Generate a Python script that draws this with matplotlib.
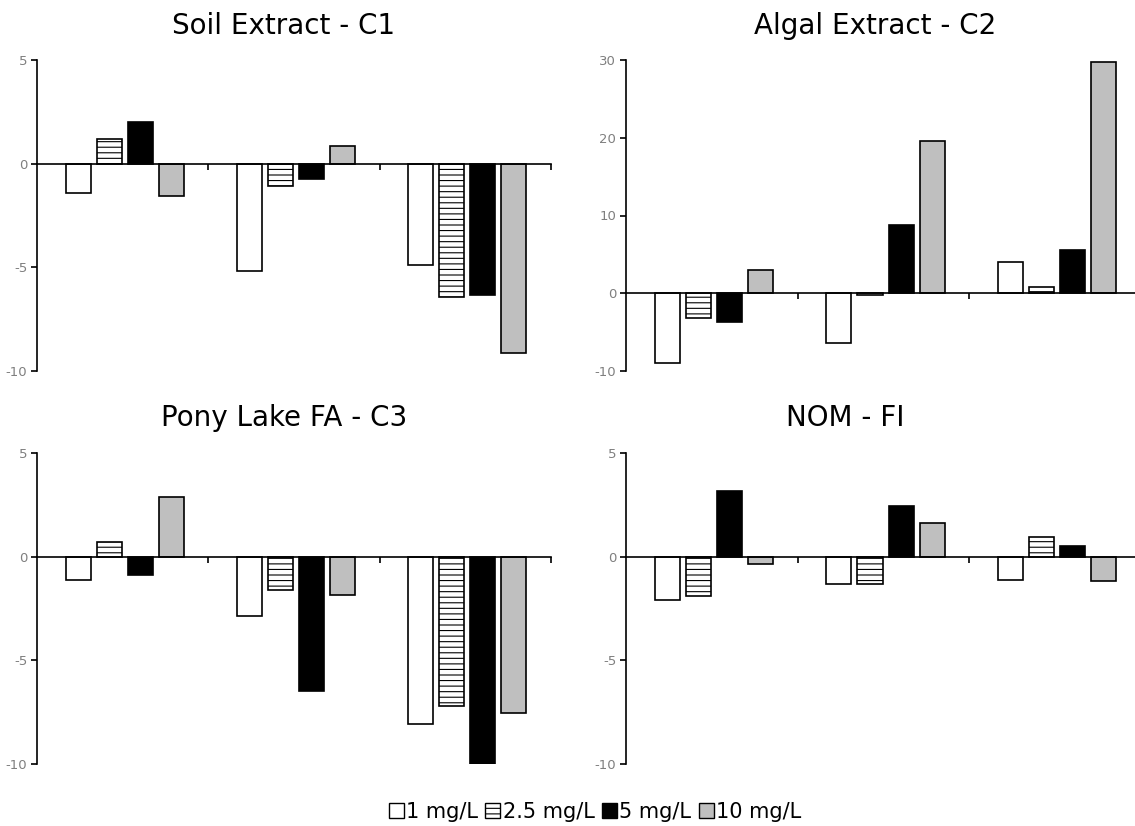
import numpy as np
import matplotlib
matplotlib.use("Agg")
import matplotlib.pyplot as plt
from matplotlib.patches import Patch

W, H = 1135, 826

series = ["1 mg/L", "2.5 mg/L", "5 mg/L", "10 mg/L"]
groups = [0, 1, 2]

# values read per panel: one list per concentration, three groups each
soil_1 = [-1.4, -5.2, -4.9]
soil_25 = [1.2, -1.1, -6.45]
soil_5 = [2.0, -0.72, -6.33]
soil_10 = [-1.57, 0.85, -9.15]

algal_1 = [-9.0, -6.45, 4.05]
algal_25 = [-3.2, -0.25, 0.75]
algal_5 = [-3.7, 8.75, 5.5]
algal_10 = [3.05, 19.6, 29.7]

pony_1 = [-1.12, -2.87, -8.08]
pony_25 = [0.71, -1.62, -7.18]
pony_5 = [-0.88, -6.47, -10.0]
pony_10 = [2.87, -1.86, -7.56]

nom_1 = [-2.1, -1.3, -1.12]
nom_25 = [-1.88, -1.32, 0.93]
nom_5 = [3.16, 2.46, 0.5]
nom_10 = [-0.34, 1.64, -1.19]

soil_ticks = [-10, -5, 0, 5]
algal_ticks = [-10, 0, 10, 20, 30]

STYLE = [dict(facecolor="white", hatch=None),
         dict(facecolor="white", hatch="---"),
         dict(facecolor="black", hatch=None),
         dict(facecolor="#bfbfbf", hatch=None)]

plt.rcParams["font.family"] = ["DejaVu Sans"]
plt.rcParams["axes.unicode_minus"] = False
plt.rcParams["hatch.linewidth"] = 0.8
plt.rcParams["hatch.color"] = "black"


def px_axes(fig, left, top, right, bottom):
    return fig.add_axes([left / W, 1 - bottom / H, (right - left) / W, (bottom - top) / H])


def panel(ax, data, ticks):
    step, width = 0.181, 0.146
    x = np.array(groups, dtype=float) + 0.012
    for i, vals in enumerate(data):
        st = STYLE[i]
        ax.bar(x + (i - 1.5) * step, vals, width, color=st["facecolor"],
               hatch=st["hatch"], edgecolor="black", linewidth=1.2, zorder=2)
    ax.set_xlim(-0.5, 2.5)
    ax.set_ylim(ticks[0], ticks[-1])
    ax.set_yticks(ticks)
    ax.set_xticks([0.5, 1.5, 2.5])
    ax.set_xticklabels([])
    for s in ("top", "right"):
        ax.spines[s].set_visible(False)
    ax.spines["bottom"].set_position(("data", 0))
    ax.spines["bottom"].set_zorder(3)
    for s in ("left", "bottom"):
        ax.spines[s].set_linewidth(1.2)
    ax.tick_params(axis="y", direction="out", length=4, width=1.2,
                   labelsize=9.5, labelcolor="#7f7f7f", pad=3)
    ax.tick_params(axis="x", direction="out", length=4, width=1.2)
    ax.patch.set_visible(False)


fig = plt.figure(figsize=(W / 100, H / 100), dpi=100)

ax1 = px_axes(fig, 37, 60, 551, 371)
panel(ax1, [soil_1, soil_25, soil_5, soil_10], soil_ticks)
ax2 = px_axes(fig, 626, 60, 1141, 371)
panel(ax2, [algal_1, algal_25, algal_5, algal_10], algal_ticks)
ax3 = px_axes(fig, 37, 453, 551, 764)
panel(ax3, [pony_1, pony_25, pony_5, pony_10], soil_ticks)
ax4 = px_axes(fig, 626, 453, 1141, 764)
panel(ax4, [nom_1, nom_25, nom_5, nom_10], soil_ticks)

for txt, cx, cy in [("Soil Extract - C1", 284, 26), ("Algal Extract - C2", 875, 26),
                    ("Pony Lake FA - C3", 284, 418), ("NOM - FI", 845, 418)]:
    fig.text(cx / W, 1 - cy / H, txt, ha="center", va="center", fontsize=20)

handles = [Patch(facecolor=st["facecolor"], hatch=st["hatch"], edgecolor="black",
                 linewidth=1.0) for st in STYLE]
fig.legend(handles, series, loc="center", bbox_to_anchor=(595 / W, 1 - 812 / H),
           ncol=4, frameon=False, fontsize=15, handlelength=0.72, handleheight=0.72,
           handletextpad=0.12, columnspacing=0.35, borderaxespad=0)

fig.savefig("out.png", dpi=100)
